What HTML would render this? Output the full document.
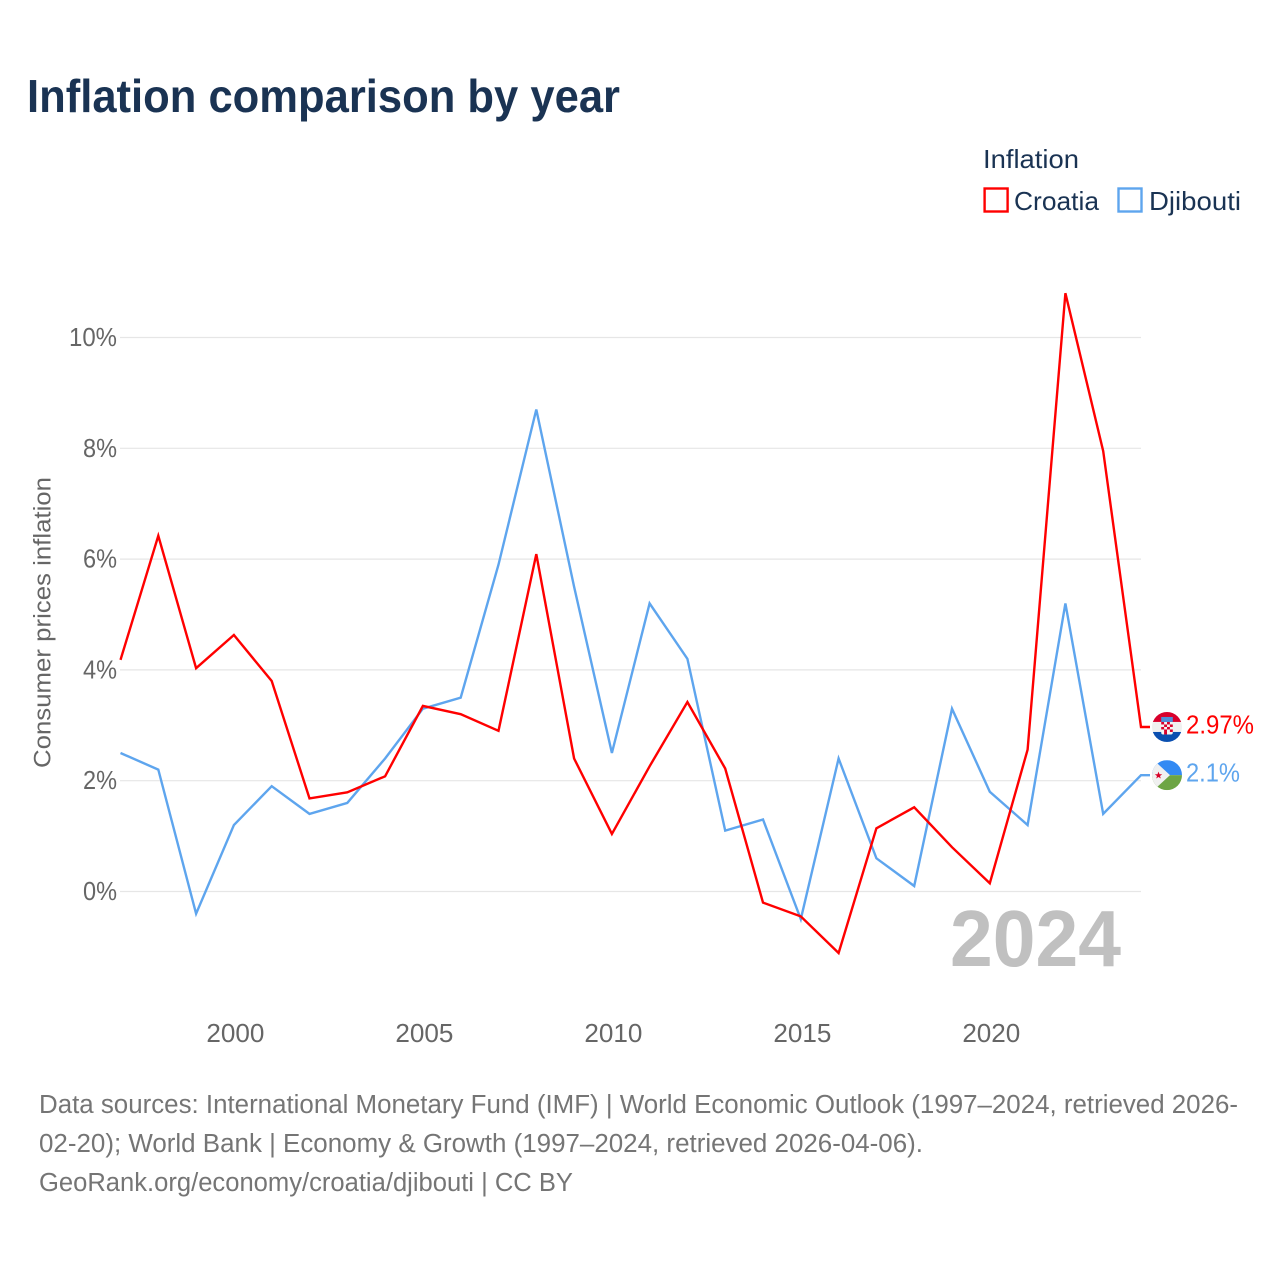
<!DOCTYPE html>
<html lang="en">
<head>
<meta charset="utf-8">
<title>Inflation comparison by year</title>
<style>
html,body{margin:0;padding:0;background:#fff;width:1280px;height:1280px;overflow:hidden}
svg{display:block}
text{font-family:"Liberation Sans",sans-serif}
</style>
</head>
<body>
<svg id="chart" xmlns="http://www.w3.org/2000/svg" width="1280" height="1280" viewBox="0 0 1280 1280">
  <defs>
    <clipPath id="clip-hr"><circle cx="0" cy="0" r="15"/></clipPath>
    <clipPath id="clip-dj"><circle cx="0" cy="0" r="15"/></clipPath>
  </defs>
  <rect x="0" y="0" width="1280" height="1280" fill="#fff"/>
  <text x="27" y="112" font-size="46" font-weight="700" fill="#1a3353" textLength="593" lengthAdjust="spacingAndGlyphs">Inflation comparison by year</text>

  <g>
    <text x="983" y="168" font-size="26" fill="#1a3353" textLength="96" lengthAdjust="spacingAndGlyphs">Inflation</text>
    <rect x="984.6" y="188.5" width="23" height="23" fill="none" stroke="#ff0000" stroke-width="2.4"/>
    <text x="1014" y="210" font-size="26" fill="#1a3353" textLength="85" lengthAdjust="spacingAndGlyphs">Croatia</text>
    <rect x="1118.5" y="188.5" width="23" height="23" fill="none" stroke="#5ea5ee" stroke-width="2.4"/>
    <text x="1149" y="210" font-size="26" fill="#1a3353" textLength="92" lengthAdjust="spacingAndGlyphs">Djibouti</text>
  </g>

  <g id="grid"></g>
  <g id="y-axis"></g>
  <g id="x-axis"></g>
  <text transform="translate(50.5 768) rotate(-90)" font-size="24.5" fill="#666" textLength="291" lengthAdjust="spacingAndGlyphs">Consumer prices inflation</text>
  <text x="950" y="966" font-size="80" font-weight="700" fill="#c0c0c0" textLength="171" lengthAdjust="spacingAndGlyphs">2024</text>
  <g id="series"></g>

  <g id="flag-hr">
    <g clip-path="url(#clip-hr)">
      <rect x="-15" y="-15" width="30" height="10" fill="#d8002c"/>
      <rect x="-15" y="-5" width="30" height="10" fill="#f0f0f0"/>
      <rect x="-15" y="5" width="30" height="10" fill="#0a4fb0"/>
      <rect x="-5.8" y="-5" width="11.6" height="12.5" rx="2" fill="#f4f4f4"/>
      <rect x="-5.8" y="-5" width="2.9" height="2.5" fill="#d8002c"/>
      <rect x="0" y="-5" width="2.9" height="2.5" fill="#d8002c"/>
      <rect x="-2.9" y="-2.5" width="2.9" height="2.5" fill="#d8002c"/>
      <rect x="2.9" y="-2.5" width="2.9" height="2.5" fill="#d8002c"/>
      <rect x="-5.8" y="0" width="2.9" height="2.5" fill="#d8002c"/>
      <rect x="0" y="0" width="2.9" height="2.5" fill="#d8002c"/>
      <rect x="-2.9" y="2.5" width="2.9" height="2.5" fill="#d8002c"/>
      <rect x="2.9" y="2.5" width="2.9" height="2.5" fill="#d8002c"/>
      <rect x="-2.9" y="5" width="2.9" height="2.5" fill="#d8002c"/>
      <rect x="-5.8" y="-10" width="11.6" height="5" fill="#4f8fd8"/>
    </g>
  </g>
  <g id="flag-dj">
    <g clip-path="url(#clip-dj)">
      <rect x="-15" y="-15" width="30" height="15" fill="#338af3"/>
      <rect x="-15" y="0" width="30" height="15" fill="#6da544"/>
      <polygon points="-15,-15 -10,-12 3,0 -10,12 -15,15" fill="#f0f0f0"/>
      <polygon points="-8.5,-3.5 -7.5,-0.9 -4.8,-0.9 -7,0.8 -6.2,3.4 -8.5,1.8 -10.8,3.4 -10,0.8 -12.2,-0.9 -9.5,-0.9" fill="#d80027"/>
    </g>
  </g>
  <text id="value-hr" x="1186" font-size="25.5" fill="#ff0000" textLength="68" lengthAdjust="spacingAndGlyphs"></text>
  <text id="value-dj" x="1186" font-size="25.5" fill="#5ea5ee" textLength="54" lengthAdjust="spacingAndGlyphs"></text>

  <g font-size="25.5" fill="#757575">
    <text x="39" y="1113" textLength="1199" lengthAdjust="spacingAndGlyphs">Data sources: International Monetary Fund (IMF) | World Economic Outlook (1997–2024, retrieved 2026-</text>
    <text x="39" y="1152" textLength="884" lengthAdjust="spacingAndGlyphs">02-20); World Bank | Economy &amp; Growth (1997–2024, retrieved 2026-04-06).</text>
    <text x="39" y="1191" textLength="534" lengthAdjust="spacingAndGlyphs">GeoRank.org/economy/croatia/djibouti | CC BY</text>
  </g>
</svg>
<script>
const years = [1997,1998,1999,2000,2001,2002,2003,2004,2005,2006,2007,2008,2009,2010,2011,2012,2013,2014,2015,2016,2017,2018,2019,2020,2021,2022,2023,2024];
const croatia = [4.18,6.42,4.03,4.63,3.8,1.68,1.79,2.08,3.35,3.2,2.9,6.09,2.4,1.04,2.26,3.42,2.22,-0.2,-0.45,-1.11,1.14,1.52,0.8,0.15,2.56,10.8,7.95,2.97];
const djibouti = [2.5,2.2,-0.4,1.2,1.9,1.4,1.6,2.4,3.3,3.5,5.9,8.7,5.5,2.5,5.2,4.2,1.1,1.3,-0.5,2.4,0.6,0.1,3.3,1.8,1.2,5.2,1.4,2.1];
const yTicks = [0,2,4,6,8,10];
const xTicks = [2000,2005,2010,2015,2020];

const NS = 'http://www.w3.org/2000/svg';
const xScale = v => 120.5 + (v - 1997) * (1141 - 120.5) / 27;
const yScale = v => 891.5 - v * 55.4;
const make = (tag, props) => {
  const el = document.createElementNS(NS, tag);
  Object.keys(props).forEach(k => el.setAttribute(k, props[k]));
  return el;
};

const gridG = document.getElementById('grid');
const yG = document.getElementById('y-axis');
const xG = document.getElementById('x-axis');
const seriesG = document.getElementById('series');

yTicks.forEach(t => {
  const line = make('line', {x1:120, x2:1141, y1:yScale(t), y2:yScale(t), stroke:'#e6e6e6', 'stroke-width':1.2});
  
  
  gridG.appendChild(line);
  const str = t + '%';
  const w = str.length === 3 ? 48 : 34;
  const label = make('text', {x:117 - w, y:yScale(t) + 8.5, 'font-size':25.5, fill:'#666', textLength:w, lengthAdjust:'spacingAndGlyphs'});
  
  
  label.textContent = str;
  yG.appendChild(label);
});

xTicks.forEach(t => {
  const label = make('text', {x:xScale(t) + 1.5 - 29, y:1042, 'font-size':26, fill:'#666', textLength:58, lengthAdjust:'spacingAndGlyphs'});
  
  
  label.textContent = t;
  xG.appendChild(label);
});

function drawSeries(values, color, tailX) {
  const pts = values.map((v, i) => xScale(years[i]).toFixed(1) + ',' + yScale(v).toFixed(1));
  const last = values[values.length - 1];
  pts.push(tailX + ',' + yScale(last).toFixed(1));
  const line = make('polyline', {points:pts.join(' '), fill:'none', stroke:color, 'stroke-width':2.4, 'stroke-linejoin':'miter'});
  return line;
}

const lineDj = drawSeries(djibouti, '#5ea5ee', 1150);


seriesG.appendChild(lineDj);

const lineHr = drawSeries(croatia, '#ff0000', 1150);


seriesG.appendChild(lineHr);

const lastHr = croatia[croatia.length - 1];
const lastDj = djibouti[djibouti.length - 1];
document.getElementById('flag-hr').setAttribute('transform', 'translate(1167 ' + yScale(lastHr) + ')');
document.getElementById('flag-dj').setAttribute('transform', 'translate(1167 ' + yScale(lastDj) + ')');
const valueHr = document.getElementById('value-hr');
valueHr.setAttribute('y', yScale(lastHr) + 6.5);
valueHr.textContent = lastHr + '%';
const valueDj = document.getElementById('value-dj');
valueDj.setAttribute('y', yScale(lastDj) + 6.5);
valueDj.textContent = lastDj + '%';
</script>
</body>
</html>
